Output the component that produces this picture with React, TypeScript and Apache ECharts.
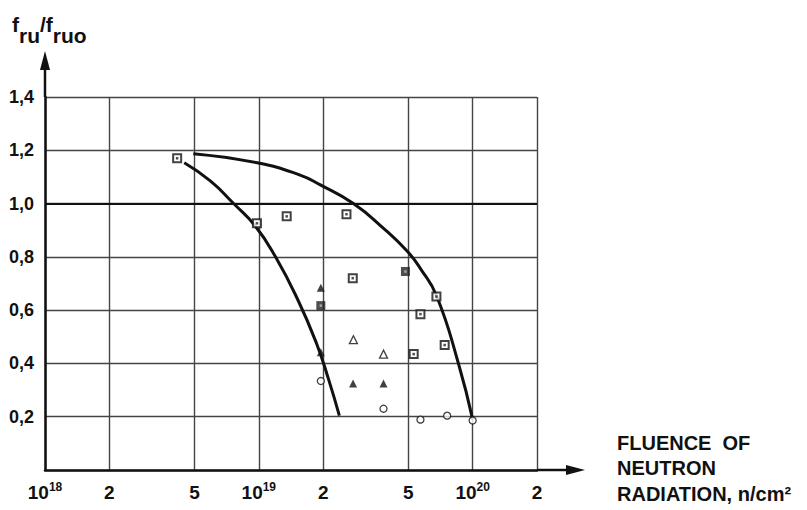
import React, { useEffect, useRef } from "react";
import * as echarts from "echarts";

// Fluence (n/cm^2) vs f_ru/f_ruo
const xTicks = [1e18, 2e18, 5e18, 1e19, 2e19, 5e19, 1e20, 2e20];
const yTicks = [0, 0.2, 0.4, 0.6, 0.8, 1.0, 1.2, 1.4];

const squaresOpen: [number, number][] = [
  [4.15e18, 1.17], [9.8e18, 0.926], [1.35e19, 0.952], [2.57e19, 0.96],
  [2.75e19, 0.72], [6.77e19, 0.651], [5.7e19, 0.585], [5.3e19, 0.435], [7.4e19, 0.469],
];
const squaresFilled: [number, number][] = [[1.95e19, 0.617], [4.85e19, 0.745]];
const trianglesFilled: [number, number][] = [
  [1.95e19, 0.684], [1.95e19, 0.442], [2.76e19, 0.325], [3.83e19, 0.325],
];
const trianglesOpen: [number, number][] = [[2.77e19, 0.489], [3.83e19, 0.435]];
const circlesOpen: [number, number][] = [
  [1.95e19, 0.334], [3.83e19, 0.23], [5.7e19, 0.189], [7.6e19, 0.204], [1.0e20, 0.186],
];
const leftCurve: [number, number][] = [
  [4.48e18, 1.153], [5.93e18, 1.085], [7.6e18, 1.001], [9.64e18, 0.915],
  [1.195e19, 0.801], [1.52e19, 0.64], [1.86e19, 0.476], [2.12e19, 0.34], [2.38e19, 0.204],
];
const rightCurve: [number, number][] = [
  [4.94e18, 1.187], [9.83e18, 1.153], [1.56e19, 1.107], [1.94e19, 1.07],
  [2.77e19, 1.0], [3.83e19, 0.907], [4.96e19, 0.82], [5.7e19, 0.756],
  [6.78e19, 0.654], [8.6e19, 0.397], [1e20, 0.19],
];

const FONT = "'Liberation Sans', Arial, sans-serif";
const INK = "#111";

export default function App() {
  const ref = useRef<HTMLDivElement>(null);
  useEffect(() => {
    if (!ref.current) return;
    const chart = echarts.init(ref.current, undefined, { renderer: "svg" });
    const xFmt = (v: number) => {
      const e = Math.round(Math.log10(v));
      if (Math.abs(v - Math.pow(10, e)) / v < 1e-6) return `{b|10}{s|${e}}`;
      return `{b|${Math.round(v / Math.pow(10, Math.floor(Math.log10(v))))}}`;
    };
    const scatterBase = { type: "scatter", z: 5 } as any;
    chart.setOption({
      animation: false,
      backgroundColor: "#fff",
      grid: { left: 45, right: 270, top: 97, bottom: 40, containLabel: false },
      xAxis: {
        type: "log",
        logBase: 10,
        min: 1e18,
        max: 2e20,
        axisLine: { show: true, lineStyle: { color: INK, width: 2.5 } },
        axisTick: { show: false, customValues: xTicks },
        axisLabel: {
          customValues: xTicks,
          margin: 11,
          formatter: xFmt,
          rich: {
            b: { fontFamily: FONT, fontSize: 19, fontWeight: "bold", color: INK, lineHeight: 22 },
            s: { fontFamily: FONT, fontSize: 12, fontWeight: "bold", color: INK, lineHeight: 10, verticalAlign: "top" },
          },
        },
        splitLine: { show: true, lineStyle: { color: "#444", width: 1.4 } },
      },
      yAxis: {
        type: "value",
        min: 0,
        max: 1.4,
        interval: 0.2,
        axisLine: { show: true, lineStyle: { color: INK, width: 2.5 } },
        axisTick: { show: false },
        axisLabel: {
          margin: 11,
          fontFamily: FONT,
          fontSize: 18,
          fontWeight: "bold",
          color: INK,
          formatter: (v: number) => (v === 0 ? "" : v.toFixed(1).replace(".", ",")),
        },
        splitLine: { show: true, lineStyle: { color: "#444", width: 1.4 } },
      },
      series: [
        {
          type: "line",
          data: leftCurve,
          smooth: 0.5,
          showSymbol: false,
          lineStyle: { color: INK, width: 3 },
          z: 3,
          markLine: {
            silent: true,
            symbol: "none",
            label: { show: false },
            lineStyle: { color: INK, width: 2, type: "solid" },
            data: [{ yAxis: 1.0 }],
          },
        },
        {
          type: "line",
          data: rightCurve,
          smooth: 0.5,
          showSymbol: false,
          lineStyle: { color: INK, width: 3 },
          z: 3,
        },
        { ...scatterBase, data: squaresOpen, symbol: "rect", symbolSize: 8, itemStyle: { color: "#fff", borderColor: "#111", borderWidth: 2 } },
        { ...scatterBase, z: 6, data: squaresOpen, symbol: "rect", symbolSize: 2.5, itemStyle: { color: "#222" } },
        { ...scatterBase, data: squaresFilled, symbol: "rect", symbolSize: 9, itemStyle: { color: "#222" } },
        { ...scatterBase, z: 6, data: squaresFilled, symbol: "rect", symbolSize: 2.5, itemStyle: { color: "#bbb" } },
        { ...scatterBase, data: trianglesFilled, symbol: "triangle", symbolSize: 8, itemStyle: { color: "#111" } },
        { ...scatterBase, data: trianglesOpen, symbol: "triangle", symbolSize: 8, itemStyle: { color: "#fff", borderColor: "#111", borderWidth: 1.3 } },
        { ...scatterBase, data: circlesOpen, symbol: "circle", symbolSize: 7, itemStyle: { color: "#fff", borderColor: "#111", borderWidth: 1.3 } },
      ],
    });

    const [ox, oy] = chart.convertToPixel({ gridIndex: 0 } as any, [1e18, 0]) as number[];
    const [xEnd] = chart.convertToPixel({ gridIndex: 0 } as any, [2e20, 0]) as number[];
    const [, yTop] = chart.convertToPixel({ gridIndex: 0 } as any, [1e18, 1.4]) as number[];
    const xTip = xEnd + 48;
    const yTip = yTop - 46;
    chart.setOption({
      graphic: [
        { type: "line", shape: { x1: xEnd, y1: oy, x2: xTip - 14, y2: oy }, style: { stroke: INK, lineWidth: 2.5 } },
        { type: "polygon", shape: { points: [[xTip, oy], [xTip - 19, oy - 5], [xTip - 19, oy + 5]] }, style: { fill: INK } },
        { type: "line", shape: { x1: ox, y1: yTop, x2: ox, y2: yTip + 14 }, style: { stroke: INK, lineWidth: 2.5 } },
        { type: "polygon", shape: { points: [[ox, yTip], [ox - 5, yTip + 19], [ox + 5, yTip + 19]] }, style: { fill: INK } },
        {
          type: "text",
          left: 12,
          top: 14,
          style: {
            text: "{f|f}{s|ru}{f|/}{f|f}{s|ruo}",
            rich: {
              f: { fontFamily: FONT, fontSize: 21, fontWeight: "bold", fill: INK, lineHeight: 22, verticalAlign: "top" },
              s: { fontFamily: FONT, fontSize: 21, fontWeight: "bold", fill: INK, lineHeight: 32, verticalAlign: "bottom" },
            },
          } as any,
        },
        {
          type: "text",
          left: 617,
          top: 430,
          style: {
            text: "FLUENCE  OF\nNEUTRON\nRADIATION, n/cm²",
            fontFamily: FONT,
            fontSize: 20,
            fontWeight: "bold",
            fill: INK,
            lineHeight: 25.5,
          },
        },
      ],
    });
    return () => chart.dispose();
  }, []);
  return <div ref={ref} style={{ position: "fixed", left: 0, top: 0, width: 807, height: 510 }} />;
}
